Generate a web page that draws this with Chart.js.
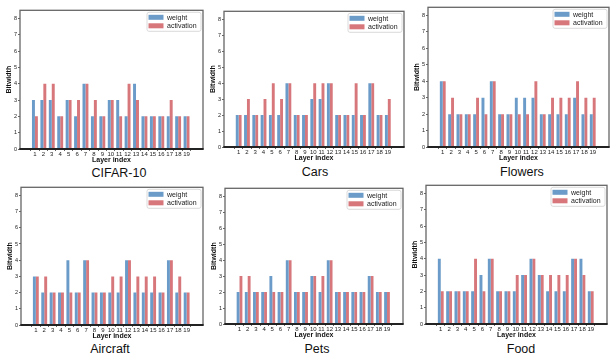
<!DOCTYPE html>
<html>
<head>
<meta charset="utf-8">
<script src="https://cdn.jsdelivr.net/npm/chart.js@4.4.0/dist/chart.umd.min.js"></script>
<style>
  body { margin: 0; background: #fff; }
  #wrap { position: relative; width: 610px; height: 355px; overflow: hidden; }
  .box { position: absolute; }
  .ttl { position: absolute; font-family: "Liberation Sans", Arial, sans-serif; font-size: 12.5px;
         color: #111; transform: translate(-50%, -50%); white-space: nowrap; }
</style>
</head>
<body>
<div id="wrap"></div>
<script>
// layer index ticks
var layers = [1, 2, 3, 4, 5, 6, 7, 8, 9, 10, 11, 12, 13, 14, 15, 16, 17, 18, 19];
var yTicks = [0, 1, 2, 3, 4, 5, 6, 7, 8];

// bitwidth per layer
var cifarWeight    = [3, 3, 3, 2, 3, 2, 4, 2, 2, 3, 3, 2, 4, 2, 2, 2, 2, 2, 2];
var cifarAct       = [2, 4, 4, 2, 3, 3, 4, 3, 2, 3, 2, 4, 3, 2, 2, 2, 3, 2, 2];
var carsWeight     = [2, 2, 2, 2, 2, 2, 4, 2, 2, 3, 3, 4, 2, 2, 2, 2, 4, 2, 2];
var carsAct        = [2, 3, 2, 3, 4, 3, 4, 2, 2, 4, 4, 4, 2, 2, 4, 2, 4, 2, 3];
var flowersWeight  = [4, 2, 2, 2, 2, 3, 4, 2, 2, 3, 3, 3, 2, 2, 2, 2, 3, 2, 2];
var flowersAct     = [4, 3, 2, 2, 3, 2, 4, 2, 2, 2, 2, 4, 2, 3, 3, 3, 4, 3, 3];
var aircraftWeight = [3, 2, 2, 2, 4, 2, 4, 2, 2, 2, 2, 4, 2, 2, 2, 2, 4, 2, 2];
var aircraftAct    = [3, 3, 2, 2, 2, 2, 4, 2, 2, 3, 3, 4, 3, 3, 3, 2, 4, 3, 2];
var petsWeight     = [2, 2, 2, 2, 3, 2, 4, 2, 2, 3, 2, 4, 2, 2, 2, 2, 3, 2, 2];
var petsAct        = [3, 3, 2, 2, 2, 2, 4, 2, 2, 3, 3, 4, 2, 2, 2, 2, 3, 2, 2];
var foodWeight     = [4, 2, 2, 2, 2, 3, 4, 2, 2, 2, 3, 4, 3, 2, 2, 2, 4, 4, 2];
var foodAct        = [2, 2, 2, 2, 4, 2, 4, 2, 2, 3, 3, 4, 3, 3, 3, 3, 4, 3, 2];

var FONT = '"Liberation Sans", Arial, sans-serif';
var BLUE = '#6b9bc8';
var RED = '#d7767b';

// frame around the plot + legend box in the upper right
var framePlugin = {
    id: 'frame',
    afterDraw: function(chart) {
        var a = chart.chartArea, ctx = chart.ctx;
        ctx.save();
        ctx.strokeStyle = '#666';
        ctx.lineWidth = 1.3;
        ctx.strokeRect(a.left, a.top, a.right - a.left, a.bottom - a.top);
        ctx.strokeStyle = '#222';
        ctx.lineWidth = 2;
        ctx.beginPath();
        ctx.moveTo(a.left - 0.6, a.bottom);
        ctx.lineTo(a.right + 0.6, a.bottom);
        ctx.stroke();

        // legend
        var w = 54, h = 19;
        var x = a.right - 2 - w, y = a.top + 2;
        ctx.fillStyle = 'rgba(255,255,255,0.85)';
        ctx.strokeStyle = '#d0d0d0';
        ctx.lineWidth = 0.8;
        ctx.beginPath();
        ctx.roundRect(x, y, w, h, 2);
        ctx.fill();
        ctx.stroke();
        ctx.font = '7px ' + FONT;
        ctx.textBaseline = 'middle';
        chart.data.datasets.forEach(function(ds, i) {
            var cy = y + 5 + i * 8.5;
            ctx.fillStyle = ds.backgroundColor;
            ctx.fillRect(x + 1.5, cy - 2.5, 15, 5);
            ctx.fillStyle = '#222';
            ctx.fillText(ds.label, x + 20, cy + 0.3);
        });
        ctx.restore();
    }
};

function toPoints(values) {
    return values.map(function(v, i) { return { x: layers[i], y: v }; });
}

function makeChart(name, weight, act, L, R, T, B, titleX, titleY) {
    var wrap = document.getElementById('wrap');
    var padL = 15, padT = 4, padB = 15, padR = 1;
    var box = document.createElement('div');
    box.className = 'box';
    box.style.left = (L - padL) + 'px';
    box.style.top = (T - padT) + 'px';
    var cw = R - L + padL + padR, ch = B - T + padT + padB;
    var canvas = document.createElement('canvas');
    canvas.width = cw;
    canvas.height = ch;
    canvas.style.width = cw + 'px';
    canvas.style.height = ch + 'px';
    box.appendChild(canvas);
    wrap.appendChild(box);

    var ttl = document.createElement('div');
    ttl.className = 'ttl';
    ttl.textContent = name;
    ttl.style.left = titleX + 'px';
    ttl.style.top = titleY + 'px';
    wrap.appendChild(ttl);

    new Chart(canvas.getContext('2d'), {
        type: 'bar',
        data: {
            datasets: [
                { label: 'weight', data: toPoints(weight), backgroundColor: BLUE },
                { label: 'activation', data: toPoints(act), backgroundColor: RED }
            ]
        },
        options: {
            responsive: false,
            animation: false,
            events: [],
            categoryPercentage: 0.7,
            barPercentage: 1.0,
            layout: { padding: { left: 0, right: padR, top: 0, bottom: 0 } },
            plugins: { legend: { display: false }, tooltip: { enabled: false } },
            scales: {
                x: {
                    type: 'linear',
                    min: layers[0] - 1.2,
                    max: layers[layers.length - 1] + 1.38,
                    afterBuildTicks: function(s) {
                        s.ticks = layers.map(function(v) { return { value: v }; });
                    },
                    afterFit: function(s) { s.height = padB; },
                    grid: { drawOnChartArea: false, drawTicks: true, tickLength: 2, color: '#666' },
                    border: { display: false },
                    ticks: { font: { family: FONT, size: 6 }, color: '#222', padding: 0, maxRotation: 0, autoSkip: false },
                    title: { display: true, text: 'Layer index', color: '#111',
                             font: { family: FONT, size: 7, weight: 'bold' }, padding: 0 }
                },
                y: {
                    min: 0,
                    max: 8.5,
                    afterBuildTicks: function(s) {
                        s.ticks = yTicks.map(function(v) { return { value: v }; });
                    },
                    afterFit: function(s) { s.width = padL; },
                    grid: { drawOnChartArea: false, drawTicks: true, tickLength: 2, color: '#666' },
                    border: { display: false },
                    ticks: { font: { family: FONT, size: 5.5 }, color: '#222', padding: 1 },
                    title: { display: true, text: 'Bitwidth', color: '#111',
                             font: { family: FONT, size: 7, weight: 'bold' }, padding: 0 }
                }
            }
        },
        plugins: [framePlugin]
    });
}

makeChart('CIFAR-10', cifarWeight, cifarAct, 20, 203, 10, 149, 119, 173);
makeChart('Cars', carsWeight, carsAct, 224, 404, 11, 147, 315, 172);
makeChart('Flowers', flowersWeight, flowersAct, 428, 609, 7, 147, 522, 172);
makeChart('Aircraft', aircraftWeight, aircraftAct, 21, 203, 187, 325, 110, 349);
makeChart('Pets', petsWeight, petsAct, 225, 403, 188, 324, 317, 349);
makeChart('Food', foodWeight, foodAct, 426, 607, 185, 324, 521, 349);
</script>
</body>
</html>
